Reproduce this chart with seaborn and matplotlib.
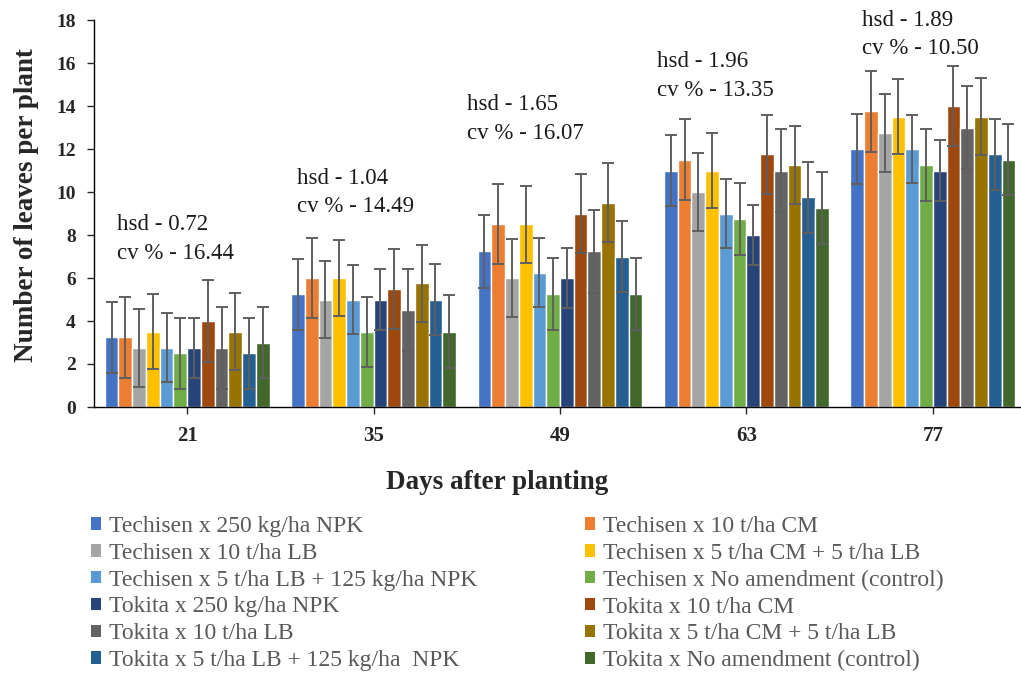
import matplotlib
matplotlib.use("Agg")
import matplotlib.pyplot as plt
import matplotlib.patches as mpatches
import seaborn as sns
import pandas as pd
import numpy as np

days = ["21", "35", "49", "63", "77"]
treatments = [
    "Techisen x 250 kg/ha NPK",
    "Techisen x 10 t/ha CM",
    "Techisen x 10 t/ha LB",
    "Techisen x 5 t/ha CM + 5 t/ha LB",
    "Techisen x 5 t/ha LB + 125 kg/ha NPK",
    "Techisen x No amendment (control)",
    "Tokita x 250 kg/ha NPK",
    "Tokita x 10 t/ha CM",
    "Tokita x 10 t/ha LB",
    "Tokita x 5 t/ha CM + 5 t/ha LB",
    "Tokita x 5 t/ha LB + 125 kg/ha  NPK",
    "Tokita x No amendment (control)",
]
colors = ["#4472C4", "#ED7D31", "#A5A5A5", "#FFC000", "#5B9BD5", "#70AD47",
          "#264478", "#9E480E", "#636363", "#997300", "#255E91", "#43682B"]

# mean leaves per plant, one list per treatment (days 21, 35, 49, 63, 77)
t_npk     = [3.25, 5.25, 7.25, 11.0, 12.0]
t_cm      = [3.25, 6.0, 8.5, 11.5, 13.75]
t_lb      = [2.75, 5.0, 6.0, 10.0, 12.75]
t_cmlb    = [3.5, 6.0, 8.5, 11.0, 13.5]
t_lbnpk   = [2.75, 5.0, 6.25, 9.0, 12.0]
t_ctrl    = [2.5, 3.5, 5.25, 8.75, 11.25]
k_npk     = [2.75, 5.0, 6.0, 8.0, 11.0]
k_cm      = [4.0, 5.5, 9.0, 11.75, 14.0]
k_lb      = [2.75, 4.5, 7.25, 11.0, 13.0]
k_cmlb    = [3.5, 5.75, 9.5, 11.25, 13.5]
k_lbnpk   = [2.5, 5.0, 7.0, 9.75, 11.75]
k_ctrl    = [3.0, 3.5, 5.25, 9.25, 11.5]
means = [t_npk, t_cm, t_lb, t_cmlb, t_lbnpk, t_ctrl,
         k_npk, k_cm, k_lb, k_cmlb, k_lbnpk, k_ctrl]

# error bar half-lengths
e_t_npk   = [1.65, 1.65, 1.7, 1.65, 1.65]
e_t_cm    = [1.88, 1.88, 1.85, 1.88, 1.9]
e_t_lb    = [1.8, 1.8, 1.8, 1.83, 1.8]
e_t_cmlb  = [1.75, 1.77, 1.8, 1.76, 1.75]
e_t_lbnpk = [1.6, 1.6, 1.6, 1.6, 1.6]
e_t_ctrl  = [1.65, 1.63, 1.66, 1.66, 1.66]
e_k_npk   = [1.4, 1.4, 1.4, 1.4, 1.4]
e_k_cm    = [1.9, 1.85, 1.85, 1.85, 1.87]
e_k_lb    = [1.9, 1.9, 1.93, 1.92, 1.92]
e_k_cmlb  = [1.8, 1.8, 1.83, 1.82, 1.8]
e_k_lbnpk = [1.65, 1.65, 1.63, 1.65, 1.66]
e_k_ctrl  = [1.65, 1.7, 1.66, 1.66, 1.66]
errors = [e_t_npk, e_t_cm, e_t_lb, e_t_cmlb, e_t_lbnpk, e_t_ctrl,
          e_k_npk, e_k_cm, e_k_lb, e_k_cmlb, e_k_lbnpk, e_k_ctrl]

hsd_labels = ["hsd - 0.72", "hsd - 1.04", "hsd - 1.65", "hsd - 1.96", "hsd - 1.89"]
cv_labels = ["cv % - 16.44", "cv % - 14.49", "cv % - 16.07", "cv % - 13.35", "cv % - 10.50"]

rows = []
for t, m in zip(treatments, means):
    for d, v in zip(days, m):
        rows.append({"day": d, "treatment": t, "value": v})
df = pd.DataFrame(rows)

sns.set_style("white")
plt.rcParams["font.family"] = ["Liberation Serif", "DejaVu Serif"]

fig = plt.figure(figsize=(10.21, 6.73), dpi=100)
W, H = 1021, 673
ax = fig.add_axes([94 / W, (H - 407) / H, 932 / W, 387 / H])

sns.barplot(data=df, x="day", y="value", hue="treatment", hue_order=treatments,
            order=days, palette=colors, width=0.885, errorbar=None,
            edgecolor="white", linewidth=1.0, saturation=1, ax=ax, legend=False)

for cont, err in zip(ax.containers, errors):
    xs = [b.get_x() + b.get_width() / 2 for b in cont]
    ys = [b.get_height() for b in cont]
    ax.errorbar(xs, ys, yerr=err, fmt="none", ecolor="#5f5f5f",
                elinewidth=1.4, capsize=4.5, capthick=1.4, zorder=5)

ax.set_ylim(0, 18)
ax.set_yticks(np.arange(0, 19, 2))
ax.set_xlim(-0.5, 4.5)
for s in ["top", "right"]:
    ax.spines[s].set_visible(False)
for s in ["left", "bottom"]:
    ax.spines[s].set_color("#000000")
    ax.spines[s].set_linewidth(1.0)
ax.tick_params(axis="y", which="major", left=True, length=5, width=1, direction="out",
               labelsize=14, pad=8)
ax.tick_params(axis="x", which="major", bottom=True, length=5, width=1, direction="out",
               labelsize=15, pad=9)
for lab in ax.get_xticklabels() + ax.get_yticklabels():
    lab.set_fontweight("bold")

ax.set_xlabel("Days after planting", fontsize=19.5, fontweight="bold")
ax.set_ylabel("Number of leaves per plant", fontsize=19.5, fontweight="bold")
ax.xaxis.set_label_coords(0.433, -0.162)
ax.yaxis.set_label_coords(-0.059, 0.522)

ann_x = [-0.377, 0.588, 1.5, 2.52, 3.62]
ann_y = [8.47, 10.65, 14.05, 16.05, 18.0]
for x, y, h, c in zip(ann_x, ann_y, hsd_labels, cv_labels):
    ax.text(x, y, h, fontsize=16.5, ha="left", va="center", color="#1a1a1a", clip_on=False)
    ax.text(x, y - 1.33, c, fontsize=16.5, ha="left", va="center", color="#1a1a1a", clip_on=False)

handles = [mpatches.Patch(facecolor=c, edgecolor="none") for c in colors]
left_idx = [0, 2, 4, 6, 8, 10]
right_idx = [1, 3, 5, 7, 9, 11]
for idx, xpos in [(left_idx, 91 / W), (right_idx, 585 / W)]:
    leg = fig.legend([handles[i] for i in idx], [treatments[i] for i in idx],
                     loc="upper left", bbox_to_anchor=(xpos, 1 - 516 / H),
                     frameon=False, fontsize=17, handlelength=0.43, handleheight=0.43,
                     handletextpad=0.35, labelspacing=0.245, borderaxespad=0, borderpad=0)
    for t in leg.get_texts():
        t.set_color("#595959")

fig.savefig("out.png", dpi=100)
